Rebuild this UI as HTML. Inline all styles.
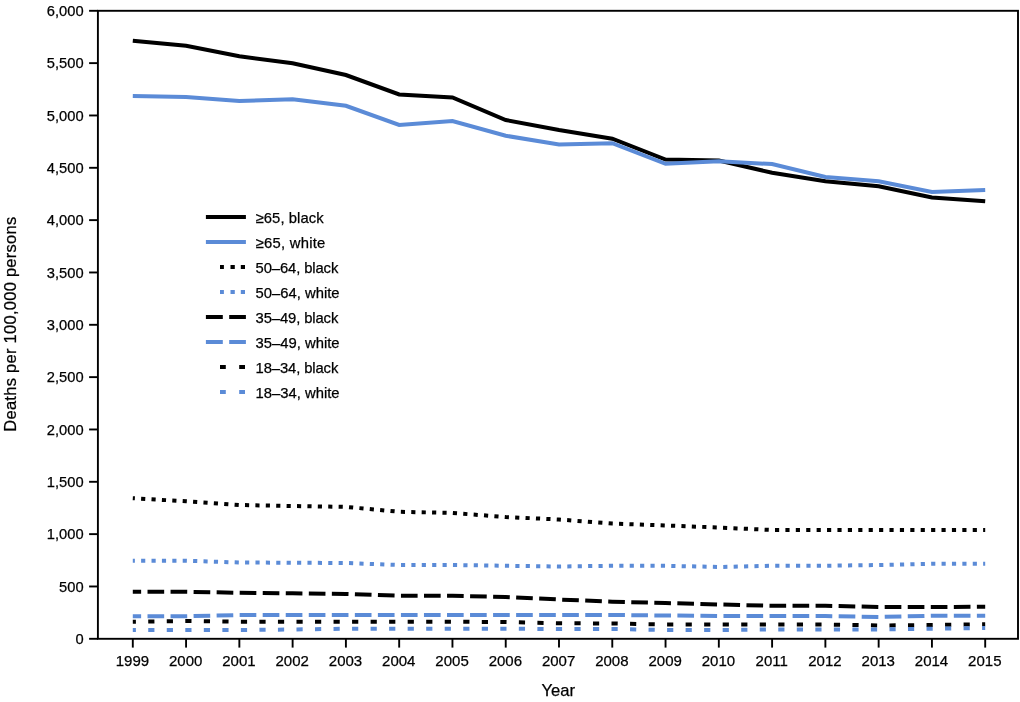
<!DOCTYPE html>
<html><head><meta charset="utf-8"><title>Chart</title>
<style>
html,body{margin:0;padding:0;background:#fff;}
body{width:1020px;height:702px;overflow:hidden;}
svg{display:block;will-change:transform;}
text{font-family:"Liberation Sans",sans-serif;fill:#000;stroke:#000;stroke-width:0.25px;}
.tk{font-size:15px;}
.lg{font-size:14.8px;}
</style></head><body>
<svg width="1020" height="702" viewBox="0 0 1020 702">

<rect x="97.9" y="10.8" width="920.1" height="628.0" fill="none" stroke="#000" stroke-width="1.9"/>
<line x1="89.1" x2="97.9" y1="638.80" y2="638.80" stroke="#000" stroke-width="1.9"/>
<text class="tk" style="font-size:14.7px" x="83.6" y="643.90" text-anchor="end">0</text>
<line x1="89.1" x2="97.9" y1="586.47" y2="586.47" stroke="#000" stroke-width="1.9"/>
<text class="tk" style="font-size:14.7px" x="83.6" y="591.57" text-anchor="end">500</text>
<line x1="89.1" x2="97.9" y1="534.13" y2="534.13" stroke="#000" stroke-width="1.9"/>
<text class="tk" style="font-size:14.7px" x="83.6" y="539.23" text-anchor="end">1,000</text>
<line x1="89.1" x2="97.9" y1="481.80" y2="481.80" stroke="#000" stroke-width="1.9"/>
<text class="tk" style="font-size:14.7px" x="83.6" y="486.90" text-anchor="end">1,500</text>
<line x1="89.1" x2="97.9" y1="429.47" y2="429.47" stroke="#000" stroke-width="1.9"/>
<text class="tk" style="font-size:14.7px" x="83.6" y="434.57" text-anchor="end">2,000</text>
<line x1="89.1" x2="97.9" y1="377.13" y2="377.13" stroke="#000" stroke-width="1.9"/>
<text class="tk" style="font-size:14.7px" x="83.6" y="382.23" text-anchor="end">2,500</text>
<line x1="89.1" x2="97.9" y1="324.80" y2="324.80" stroke="#000" stroke-width="1.9"/>
<text class="tk" style="font-size:14.7px" x="83.6" y="329.90" text-anchor="end">3,000</text>
<line x1="89.1" x2="97.9" y1="272.47" y2="272.47" stroke="#000" stroke-width="1.9"/>
<text class="tk" style="font-size:14.7px" x="83.6" y="277.57" text-anchor="end">3,500</text>
<line x1="89.1" x2="97.9" y1="220.13" y2="220.13" stroke="#000" stroke-width="1.9"/>
<text class="tk" style="font-size:14.7px" x="83.6" y="225.23" text-anchor="end">4,000</text>
<line x1="89.1" x2="97.9" y1="167.80" y2="167.80" stroke="#000" stroke-width="1.9"/>
<text class="tk" style="font-size:14.7px" x="83.6" y="172.90" text-anchor="end">4,500</text>
<line x1="89.1" x2="97.9" y1="115.47" y2="115.47" stroke="#000" stroke-width="1.9"/>
<text class="tk" style="font-size:14.7px" x="83.6" y="120.57" text-anchor="end">5,000</text>
<line x1="89.1" x2="97.9" y1="63.13" y2="63.13" stroke="#000" stroke-width="1.9"/>
<text class="tk" style="font-size:14.7px" x="83.6" y="68.23" text-anchor="end">5,500</text>
<line x1="89.1" x2="97.9" y1="10.80" y2="10.80" stroke="#000" stroke-width="1.9"/>
<text class="tk" style="font-size:14.7px" x="83.6" y="15.90" text-anchor="end">6,000</text>
<line x1="132.80" x2="132.80" y1="638.8" y2="647.6" stroke="#000" stroke-width="1.9"/>
<text class="tk" x="132.40" y="666.4" text-anchor="middle">1999</text>
<line x1="186.08" x2="186.08" y1="638.8" y2="647.6" stroke="#000" stroke-width="1.9"/>
<text class="tk" x="185.68" y="666.4" text-anchor="middle">2000</text>
<line x1="239.35" x2="239.35" y1="638.8" y2="647.6" stroke="#000" stroke-width="1.9"/>
<text class="tk" x="238.95" y="666.4" text-anchor="middle">2001</text>
<line x1="292.62" x2="292.62" y1="638.8" y2="647.6" stroke="#000" stroke-width="1.9"/>
<text class="tk" x="292.23" y="666.4" text-anchor="middle">2002</text>
<line x1="345.90" x2="345.90" y1="638.8" y2="647.6" stroke="#000" stroke-width="1.9"/>
<text class="tk" x="345.50" y="666.4" text-anchor="middle">2003</text>
<line x1="399.18" x2="399.18" y1="638.8" y2="647.6" stroke="#000" stroke-width="1.9"/>
<text class="tk" x="398.78" y="666.4" text-anchor="middle">2004</text>
<line x1="452.45" x2="452.45" y1="638.8" y2="647.6" stroke="#000" stroke-width="1.9"/>
<text class="tk" x="452.05" y="666.4" text-anchor="middle">2005</text>
<line x1="505.73" x2="505.73" y1="638.8" y2="647.6" stroke="#000" stroke-width="1.9"/>
<text class="tk" x="505.33" y="666.4" text-anchor="middle">2006</text>
<line x1="559.00" x2="559.00" y1="638.8" y2="647.6" stroke="#000" stroke-width="1.9"/>
<text class="tk" x="558.60" y="666.4" text-anchor="middle">2007</text>
<line x1="612.28" x2="612.28" y1="638.8" y2="647.6" stroke="#000" stroke-width="1.9"/>
<text class="tk" x="611.88" y="666.4" text-anchor="middle">2008</text>
<line x1="665.55" x2="665.55" y1="638.8" y2="647.6" stroke="#000" stroke-width="1.9"/>
<text class="tk" x="665.15" y="666.4" text-anchor="middle">2009</text>
<line x1="718.83" x2="718.83" y1="638.8" y2="647.6" stroke="#000" stroke-width="1.9"/>
<text class="tk" x="718.43" y="666.4" text-anchor="middle">2010</text>
<line x1="772.10" x2="772.10" y1="638.8" y2="647.6" stroke="#000" stroke-width="1.9"/>
<text class="tk" x="771.70" y="666.4" text-anchor="middle">2011</text>
<line x1="825.38" x2="825.38" y1="638.8" y2="647.6" stroke="#000" stroke-width="1.9"/>
<text class="tk" x="824.98" y="666.4" text-anchor="middle">2012</text>
<line x1="878.65" x2="878.65" y1="638.8" y2="647.6" stroke="#000" stroke-width="1.9"/>
<text class="tk" x="878.25" y="666.4" text-anchor="middle">2013</text>
<line x1="931.93" x2="931.93" y1="638.8" y2="647.6" stroke="#000" stroke-width="1.9"/>
<text class="tk" x="931.53" y="666.4" text-anchor="middle">2014</text>
<line x1="985.20" x2="985.20" y1="638.8" y2="647.6" stroke="#000" stroke-width="1.9"/>
<text class="tk" x="984.80" y="666.4" text-anchor="middle">2015</text>
<polyline points="132.80,40.75 186.08,45.75 239.35,56.25 292.62,63.25 345.90,75.00 399.18,94.50 452.45,97.50 505.73,120.00 559.00,130.00 612.28,138.75 665.55,159.50 718.83,160.50 772.10,172.75 825.38,181.25 878.65,186.25 931.93,197.50 985.20,201.25" fill="none" stroke="#000" stroke-width="4.0" stroke-linejoin="miter"/>
<polyline points="132.80,96.00 186.08,97.00 239.35,101.00 292.62,99.25 345.90,105.75 399.18,125.00 452.45,121.00 505.73,135.75 559.00,144.50 612.28,143.25 665.55,163.75 718.83,161.25 772.10,164.10 825.38,177.00 878.65,181.25 931.93,192.00 985.20,190.00" fill="none" stroke="#5b8bd7" stroke-width="4.0" stroke-linejoin="miter"/>
<polyline points="132.80,498.25 186.08,501.25 239.35,505.00 292.62,506.00 345.90,506.90 399.18,511.75 452.45,513.00 505.73,517.00 559.00,519.50 612.28,523.50 665.55,525.50 718.83,527.50 772.10,530.00 825.38,530.00 878.65,530.00 931.93,530.00 985.20,530.00" fill="none" stroke="#000" stroke-width="4.0" stroke-linejoin="miter" stroke-dasharray="4.160 6.247" stroke-dashoffset="2.080"/>
<polyline points="132.80,560.75 186.08,560.75 239.35,562.50 292.62,562.75 345.90,563.00 399.18,565.00 452.45,565.00 505.73,565.75 559.00,566.50 612.28,565.75 665.55,565.75 718.83,567.00 772.10,565.75 825.38,565.75 878.65,565.00 931.93,563.75 985.20,563.75" fill="none" stroke="#5b8bd7" stroke-width="4.0" stroke-linejoin="miter" stroke-dasharray="4.160 6.237" stroke-dashoffset="2.080"/>
<polyline points="132.80,591.75 186.08,591.75 239.35,592.75 292.62,593.25 345.90,594.00 399.18,595.75 452.45,595.75 505.73,597.00 559.00,599.50 612.28,601.75 665.55,603.00 718.83,604.50 772.10,605.75 825.38,605.75 878.65,607.00 931.93,607.00 985.20,606.75" fill="none" stroke="#000" stroke-width="4.0" stroke-linejoin="miter" stroke-dasharray="16.660 6.384" stroke-dashoffset="8.330"/>
<polyline points="132.80,616.25 186.08,616.25 239.35,615.00 292.62,615.00 345.90,615.00 399.18,615.00 452.45,615.00 505.73,615.00 559.00,615.00 612.28,615.00 665.55,615.50 718.83,616.00 772.10,616.00 825.38,616.00 878.65,617.00 931.93,615.75 985.20,615.75" fill="none" stroke="#5b8bd7" stroke-width="4.0" stroke-linejoin="miter" stroke-dasharray="16.660 6.379" stroke-dashoffset="8.330"/>
<polyline points="132.80,621.75 186.08,621.00 239.35,621.75 292.62,621.75 345.90,621.75 399.18,621.75 452.45,621.75 505.73,622.00 559.00,623.25 612.28,623.50 665.55,624.50 718.83,624.50 772.10,624.50 825.38,624.50 878.65,625.50 931.93,625.00 985.20,624.25" fill="none" stroke="#000" stroke-width="4.0" stroke-linejoin="miter" stroke-dasharray="6.200 12.332" stroke-dashoffset="3.100"/>
<polyline points="132.80,630.00 186.08,630.00 239.35,630.00 292.62,629.50 345.90,628.75 399.18,628.75 452.45,628.75 505.73,628.75 559.00,629.00 612.28,629.00 665.55,630.00 718.83,630.00 772.10,629.50 825.38,629.50 878.65,629.50 931.93,628.75 985.20,628.00" fill="none" stroke="#5b8bd7" stroke-width="4.0" stroke-linejoin="miter" stroke-dasharray="6.200 12.331" stroke-dashoffset="3.100"/>
<rect x="205.9" y="215" width="40.00" height="4" fill="#000"/>
<text class="lg" x="255.6" y="222.6" textLength="68.0" lengthAdjust="spacing">≥65, black</text>
<rect x="205.9" y="240" width="40.00" height="4" fill="#5b8bd7"/>
<text class="lg" x="255.6" y="247.6" textLength="69.7" lengthAdjust="spacing">≥65, white</text>
<rect x="220" y="265" width="3.90" height="4" fill="#000"/>
<rect x="230.5" y="265" width="4.30" height="4" fill="#000"/>
<rect x="240.8" y="265" width="4.20" height="4" fill="#000"/>
<text class="lg" x="255.6" y="272.6" textLength="82.7" lengthAdjust="spacing">50–64, black</text>
<rect x="220" y="290" width="3.90" height="4" fill="#5b8bd7"/>
<rect x="230.5" y="290" width="4.30" height="4" fill="#5b8bd7"/>
<rect x="240.8" y="290" width="4.20" height="4" fill="#5b8bd7"/>
<text class="lg" x="255.6" y="297.6" textLength="84.0" lengthAdjust="spacing">50–64, white</text>
<rect x="205.9" y="315" width="16.90" height="4" fill="#000"/>
<rect x="229.2" y="315" width="16.70" height="4" fill="#000"/>
<text class="lg" x="255.6" y="322.6" textLength="82.7" lengthAdjust="spacing">35–49, black</text>
<rect x="205.9" y="340" width="16.90" height="4" fill="#5b8bd7"/>
<rect x="229.2" y="340" width="16.70" height="4" fill="#5b8bd7"/>
<text class="lg" x="255.6" y="347.6" textLength="84.0" lengthAdjust="spacing">35–49, white</text>
<rect x="220" y="365" width="5.80" height="4" fill="#000"/>
<rect x="239.2" y="365" width="5.80" height="4" fill="#000"/>
<text class="lg" x="255.6" y="372.6" textLength="82.7" lengthAdjust="spacing">18–34, black</text>
<rect x="220" y="390" width="5.80" height="4" fill="#5b8bd7"/>
<rect x="239.2" y="390" width="5.80" height="4" fill="#5b8bd7"/>
<text class="lg" x="255.6" y="397.6" textLength="84.0" lengthAdjust="spacing">18–34, white</text>
<text x="558.3" y="695.5" text-anchor="middle" font-size="16.6">Year</text>
<text transform="translate(15.7,324.1) rotate(-90)" text-anchor="middle" font-size="16.5" letter-spacing="0.27">Deaths per 100,000 persons</text>
</svg></body></html>
